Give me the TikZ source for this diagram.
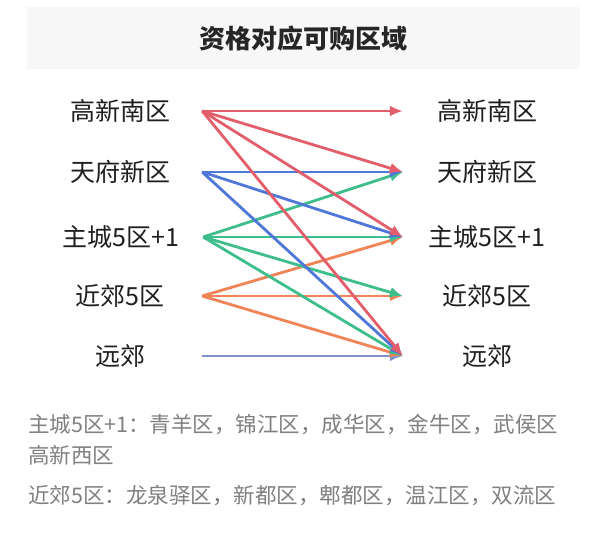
\documentclass[tikz,border=0pt]{standalone}
\usepackage{fontspec}
\setmainfont{Noto Sans CJK SC}
\usepackage{tikz}
\usetikzlibrary{arrows.meta, positioning}

\definecolor{lred}{HTML}{E35D6A}
\definecolor{lblue}{HTML}{4F77D9}
\definecolor{lgreen}{HTML}{3DBE8B}
\definecolor{lorange}{HTML}{F08457}
\definecolor{lgray}{HTML}{7F92CC}

\begin{document}
\begin{tikzpicture}[x=1pt, y=-1pt,
			band/.style={rectangle, fill=black!3, minimum width=553pt, minimum height=62pt, inner sep=0pt},
			title/.style={font=\fontsize{26}{30}\selectfont\bfseries, text=black!85},
			lhs/.style={rectangle, minimum width=164pt, inner sep=0pt, align=center,
					font=\fontsize{25}{29}\selectfont, text=black!88},
			rhs/.style={lhs, minimum width=168pt},
			note/.style={anchor=west, inner sep=0pt, font=\fontsize{21.5}{26}\selectfont, text=black!50},
			link/.style={line width=2.8pt, -{Latex[length=13pt, width=11pt]}},
		]
		\useasboundingbox (0,0) rectangle (608,534);
		\fill[white] (0,0) rectangle (608,534);

		\node (head) [band]  at (303.5,38) {};
		\node (ttl)  [title] at (303,39)   {资格对应可购区域};

		\node (lgx) [lhs] at (120,111) {高新南区};
		\node (ltf) [lhs] at (120,172) {天府新区};
		\node (lzc) [lhs] at (121,237) {主城5区+1};
		\node (ljj) [lhs] at (120,296) {近郊5区};
		\node (lyj) [lhs] at (120,356) {远郊};

		\node (rgx) [rhs] at (487,111) {高新南区};
		\node (rtf) [rhs] at (487,172) {天府新区};
		\node (rzc) [rhs] at (487,237) {主城5区+1};
		\node (rjj) [rhs] at (487,296) {近郊5区};
		\node (ryj) [rhs] at (487,356) {远郊};

		% 远郊 -> 远郊
		\draw [link, lgray] (lyj.east) -- (ryj.west);
		% 近郊5区 -> 主城, 近郊, 远郊
		\draw [link, lorange] (ljj.east) -- (rzc.west);
		\draw [link, lorange] (ljj.east) -- (rjj.west);
		\draw [link, lorange] (ljj.east) -- (ryj.west);
		% 主城5区+1 -> 天府, 主城, 近郊, 远郊
		\draw [link, lgreen] (lzc.east) -- (rtf.west);
		\draw [link, lgreen] (lzc.east) -- (rzc.west);
		\draw [link, lgreen] (lzc.east) -- (rjj.west);
		\draw [link, lgreen] (lzc.east) -- (ryj.west);
		% 天府新区 -> 天府, 主城, 远郊
		\draw [link, lblue] (ltf.east) -- (rtf.west);
		\draw [link, lblue] (ltf.east) -- (rzc.west);
		\draw [link, lblue] (ltf.east) -- (ryj.west);
		% 高新南区 -> 高新, 天府, 主城, 远郊
		\draw [link, lred] (lgx.east) -- (rgx.west);
		\draw [link, lred] (lgx.east) -- (rtf.west);
		\draw [link, lred] (lgx.east) -- (rzc.west);
		\draw [link, lred] (lgx.east) -- (ryj.west);

		\node (n1) [note] at (28,425) {主城5区+1：青羊区，锦江区，成华区，金牛区，武侯区};
		\node (n2) [note] at (28,455) {高新西区};
		\node (n3) [note] at (28,496) {近郊5区：龙泉驿区，新都区，郫都区，温江区，双流区};
	\end{tikzpicture}
\end{document}
